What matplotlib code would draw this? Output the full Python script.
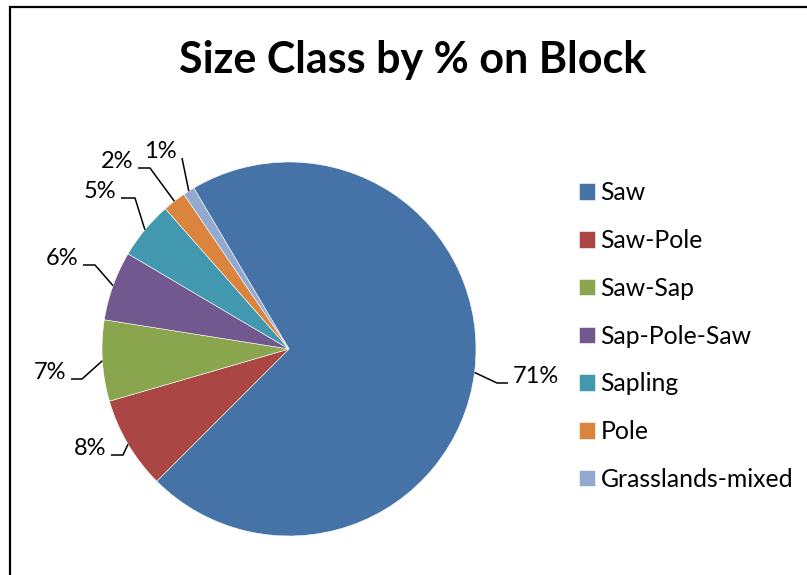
import matplotlib
matplotlib.use("Agg")
import matplotlib.pyplot as plt
from matplotlib.patches import Rectangle
import numpy as np

# data
classes = ["Saw", "Saw-Pole", "Saw-Sap", "Sap-Pole-Saw", "Sapling", "Pole", "Grasslands-mixed"]
percent = [71, 8, 7, 6, 5, 2, 1]
colors = ["#4572A7", "#AA4643", "#89A54E", "#71588F", "#4198AF", "#DB843D", "#93A9CF"]

# layout (figure pixels): pie centre/radius and label placement
W, H = 807, 575
CX, CY, R = 289, 349, 187
# text x (edge next to leader), baseline y, elbow x
lab_tx = [513, 106, 66, 78, 116, 133, 177]
lab_ty = [383, 455, 379, 265, 198, 168, 158]
lab_ex = [497, 123, 82, 95, 135, 150, 182]

FONT = ["Lato", "DejaVu Sans"]
plt.rcParams["font.family"] = FONT

fig = plt.figure(figsize=(W / 100, H / 100), dpi=100)
ax = fig.add_axes([(CX - R) / W, (H - CY - R) / H, 2 * R / W, 2 * R / H])
wedges, _ = ax.pie(percent, colors=colors, startangle=90 + 30.6, counterclock=False,
                   radius=1, wedgeprops=dict(edgecolor="white", linewidth=0.4))
ax.set_xlim(-1, 1); ax.set_ylim(-1, 1)
ax.set_aspect("equal"); ax.axis("off")


def u(px, py):
    return (px - CX) / R, (CY - py) / R


for w, p, tx, ty, ex in zip(wedges, percent, lab_tx, lab_ty, lab_ex):
    mid = np.deg2rad((w.theta1 + w.theta2) / 2)
    edge = (np.cos(mid), np.sin(mid))
    right = edge[0] > 0
    hx = tx - 5 if right else tx + 5
    if ex == 182:
        hx = ex
    ex_u, ey_u = u(ex, ty)
    hx_u, _ = u(hx, ty)
    ax.plot([edge[0], ex_u, hx_u], [edge[1], ey_u, ey_u], color="black", lw=1.1,
            clip_on=False, solid_capstyle="butt")
    tx_u, ty_u = u(tx, ty)
    ax.text(tx_u, ty_u, f"{p}%", ha="left" if right else "right", va="baseline",
            fontsize=17, clip_on=False)

fig.text(413 / W, 1 - 60 / H, "Size Class by % on Block", ha="center", va="center",
         fontsize=31, fontweight="bold")

fig.legend(wedges, classes, loc="upper left", bbox_to_anchor=(567 / W, 1 - 169 / H),
           frameon=False, fontsize=17.8, handlelength=0.65, handleheight=0.65,
           handletextpad=0.2, labelspacing=1.0, borderpad=0)

fig.add_artist(Rectangle((10 / W, -0.1), 1.2, (H - 7) / H + 0.1, transform=fig.transFigure,
                         fill=False, edgecolor="black", lw=1.6))
fig.savefig("out.png", dpi=100)
